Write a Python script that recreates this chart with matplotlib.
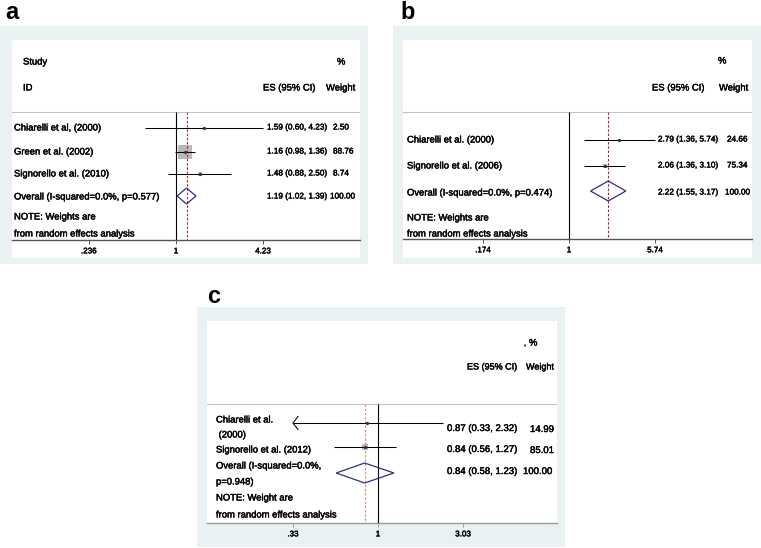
import matplotlib
matplotlib.use("Agg")
import matplotlib.pyplot as plt
import matplotlib.patheffects as pe
from matplotlib.patches import Rectangle, Polygon
from matplotlib.ticker import NullLocator

plt.rcParams['font.family'] = ['Liberation Sans', 'DejaVu Sans']

W, H = 761, 548

# --- dados: painel a ---
a_estudos = ["Chiarelli et al, (2000)", "Green et al. (2002)", "Signorello et al. (2010)"]
a_es = [1.59, 1.16, 1.48]
a_lo = [0.60, 0.98, 0.88]
a_hi = [4.23, 1.36, 2.50]
a_peso = [2.50, 88.76, 8.74]
a_total = [1.19, 1.02, 1.39]
a_total_rotulo = "Overall (I-squared=0.0%, p=0.577)"
a_nota = ["NOTE: Weights are", "from random effects analysis"]
a_ticks = [0.236, 1, 4.23]
a_ticklabels = [".236", "1", "4.23"]

# --- dados: painel b ---
b_estudos = ["Chiarelli et al. (2000)", "Signorello et al. (2006)"]
b_es = [2.79, 2.06]
b_lo = [1.36, 1.36]
b_hi = [5.74, 3.10]
b_peso = [24.66, 75.34]
b_total = [2.22, 1.55, 3.17]
b_total_rotulo = "Overall (I-squared=0.0%, p=0.474)"
b_nota = ["NOTE: Weights are", "from random effects analysis"]
b_ticks = [0.174, 1, 5.74]
b_ticklabels = [".174", "1", "5.74"]

# --- dados: painel c ---
c_estudos = ["Chiarelli et al.\n (2000)", "Signorello et al. (2012)"]
c_es = [0.87, 0.84]
c_lo = [0.33, 0.56]
c_hi = [2.32, 1.27]
c_peso = [14.99, 85.01]
c_total = [0.84, 0.58, 1.23]
c_total_rotulo = "Overall (I-squared=0.0%,\np=0.948)"
c_nota = ["NOTE: Weight are", "from random effects analysis"]
c_ticks = [0.33, 1, 3.03]
c_ticklabels = [".33", "1", "3.03"]

FUNDO = "#eaf1f3"
AZUL = "#2e2e84"
# leve contorno para imitar o texto "pesado" da imagem original
GROSSO = [pe.withStroke(linewidth=0.3, foreground="black")]


def px(x, y):
    # pixel (topo-esquerda) -> fração da figura
    return x / W, 1 - y / H


def texto(fig, x, y, t, fs, **kw):
    fig.text(*px(x, y), t, fontsize=fs, va="center", ha="left", path_effects=GROSSO, **kw)


def painel(fig, letra, d, lay):
    estudos, es, lo, hi, peso, total, total_rot, nota, ticks, tlabels = d
    fx0, fy0, fx1, fy1 = lay["frame"]
    wx0, wy0, wx1, wy1 = lay["white"]
    fig.add_artist(Rectangle(px(fx0, fy1), (fx1 - fx0) / W, (fy1 - fy0) / H,
                             transform=fig.transFigure, color=FUNDO, zorder=-2, lw=0))
    fig.add_artist(Rectangle(px(wx0, wy1), (wx1 - wx0) / W, (wy1 - wy0) / H,
                             transform=fig.transFigure, color="white", zorder=-1, lw=0))
    lx, ly = lay["letra"]
    fig.text(*px(lx, ly), letra, fontsize=17, fontweight="bold", va="baseline", ha="left")

    eixo = lay["axis"]
    ax = fig.add_axes([wx0 / W, 1 - eixo / H, (wx1 - wx0) / W, (eixo - wy0) / H])
    ax.patch.set_alpha(0)
    x1, k = lay["x1"], lay["k"]
    ax.set_xscale("log")
    ax.set_xlim(10 ** ((wx0 - x1) / k), 10 ** ((wx1 - x1) / k))
    ax.set_ylim(eixo, wy0)
    for s in ["top", "left", "right"]:
        ax.spines[s].set_visible(False)
    ax.spines["bottom"].set_color(lay["axcolor"])
    ax.spines["bottom"].set_linewidth(1.0)
    ax.set_yticks([])
    ax.set_xticks(ticks)
    ax.set_xticklabels(tlabels)
    ax.xaxis.set_minor_locator(NullLocator())
    ax.tick_params(axis="x", length=3, width=0.7, color=lay["axcolor"], labelsize=5.8, pad=3)
    for tl in ax.get_xticklabels():
        tl.set_path_effects(GROSSO)

    hl = lay["hline"]
    ax.axhline(hl, color="#c4c4c4", lw=0.8)
    ax.vlines(1, hl, eixo, color="black", lw=0.8, zorder=3)
    ax.vlines(total[0], hl, eixo, color=lay["refcolor"], lw=0.8, linestyles=(0, (2.2, 1.6)), zorder=3)

    tmin = ticks[0]
    for i in range(len(es)):
        y = lay["mark_y"][i]
        lado = lay["sq"] * peso[i] ** 0.5 * 0.72
        ax.scatter([es[i]], [y], marker="s", s=lado ** 2, color="#b9b9b9", lw=0, zorder=2)
        ax.plot([es[i]], [y], "o", ms=1.3, color="#333333", zorder=4)
        ax.hlines(y, max(lo[i], tmin), hi[i], color="black", lw=0.75, zorder=3)
        if lo[i] <= tmin:
            # IC truncado: seta aberta no limite do eixo
            xa = tmin * 10 ** (5 / k)
            ax.plot([xa, tmin, xa], [y - 6.5, y, y + 6.5], color="black", lw=0.75, zorder=3)

    dy, dh = lay["diamond"]
    ax.add_patch(Polygon([(total[1], dy), (total[0], dy - dh), (total[2], dy), (total[0], dy + dh)],
                         closed=True, fill=False, edgecolor=AZUL, lw=0.9, zorder=4))

    # textos
    fs = 6.8
    for t, x, y, *extra in lay["header"]:
        texto(fig, x, y, t, extra[0] if extra else fs)
    esx, wx = lay["cols"]
    for i in range(len(es)):
        for j, ln in enumerate(estudos[i].split("\n")):
            texto(fig, lay["lab_x"], lay["lab_y"][i] + j * lay["lsp"], ln, fs)
        yv = lay["val_y"][i]
        texto(fig, esx, yv, f"{es[i]:.2f} ({lo[i]:.2f}, {hi[i]:.2f})", lay["vfs"])
        texto(fig, wx, yv + lay["wdy"], f"{peso[i]:.2f}", lay["vfs"])
    for j, ln in enumerate(total_rot.split("\n")):
        texto(fig, lay["lab_x"], lay["tot_y"] + j * lay["lsp2"], ln, fs)
    texto(fig, esx, lay["totv_y"], f"{total[0]:.2f} ({total[1]:.2f}, {total[2]:.2f})", lay["vfs"])
    texto(fig, wx - lay["cdx"], lay["totv_y"], "100.00", lay["vfs"])
    for j, ln in enumerate(nota):
        texto(fig, lay["lab_x"], lay["nota_y"][j], ln, fs)
    return ax


fig = plt.figure(figsize=(W / 100, H / 100), dpi=100)

lay_a = dict(frame=(0, 26, 368, 264), white=(12, 40, 360, 258), letra=(5, 19),
             axis=240, hline=112, x1=176, k=139.0, axcolor="#555555", refcolor="#b8282e",
             sq=1.59, mark_y=[128, 152, 174], lab_y=[128, 152, 174], val_y=[128, 152, 174],
             lab_x=14, lsp=15, lsp2=15, tot_y=197, totv_y=197, diamond=(196, 8),
             nota_y=[217, 234], cols=(267, 333), cdx=3, wdy=0, vfs=5.9,
             header=[("Study", 23, 62), ("ID", 23, 88), ("%", 337, 62),
                     ("ES (95% CI)", 263, 88), ("Weight", 326, 88)])

lay_b = dict(frame=(393, 26, 761, 264), white=(403, 40, 752, 258), letra=(400, 19),
             axis=239, hline=112, x1=569, k=113.3, axcolor="#555555", refcolor="#a8262b",
             sq=0.5, mark_y=[140, 166], lab_y=[140, 166], val_y=[140, 166],
             lab_x=407, lsp=15, lsp2=15, tot_y=193, totv_y=193, diamond=(191, 10),
             nota_y=[218, 234], cols=(658, 727), cdx=2, wdy=0, vfs=5.9,
             header=[("%", 718, 61), ("ES (95% CI)", 652, 88), ("Weight", 719, 88)])

lay_c = dict(frame=(197, 307, 565, 547), white=(207, 321, 557, 523), letra=(207, 303),
             axis=523, hline=404, x1=378, k=176.6, axcolor="#9a9a9a", refcolor="#d08a8a",
             sq=0.6, mark_y=[423, 447], lab_y=[420, 450], val_y=[428, 449],
             lab_x=216, lsp=15, lsp2=16, tot_y=466, totv_y=471, diamond=(473, 10),
             nota_y=[498, 515], cols=(447, 530), cdx=7, wdy=1, vfs=6.9,
             header=[(",", 524, 344, 5), ("%", 529, 343), ("ES (95% CI)", 467, 367, 6.5),
                     ("Weight", 526, 367, 6.5)])

painel(fig, "a", (a_estudos, a_es, a_lo, a_hi, a_peso, a_total, a_total_rotulo, a_nota,
                  a_ticks, a_ticklabels), lay_a)
painel(fig, "b", (b_estudos, b_es, b_lo, b_hi, b_peso, b_total, b_total_rotulo, b_nota,
                  b_ticks, b_ticklabels), lay_b)
painel(fig, "c", (c_estudos, c_es, c_lo, c_hi, c_peso, c_total, c_total_rotulo, c_nota,
                  c_ticks, c_ticklabels), lay_c)

fig.savefig("out.png", dpi=100)
